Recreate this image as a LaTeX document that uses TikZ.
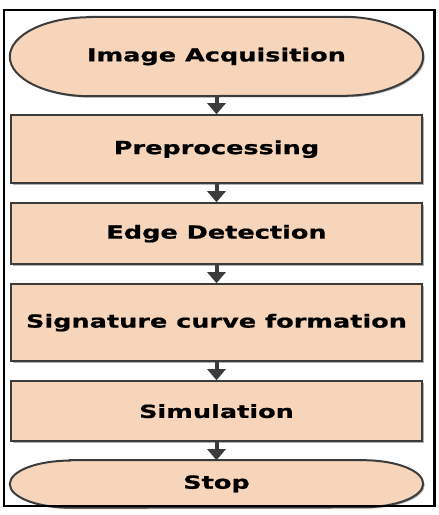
\documentclass[tikz,border=0pt]{standalone}
\usepackage{fontspec}
\newfontfamily\boxfont[FakeStretch=1.42, FakeBold=0.8]{DejaVu Sans}
\usepackage{xcolor}
\usepackage{tikz}
\usetikzlibrary{arrows.meta, positioning, shadows, backgrounds}
\definecolor{peach}{HTML}{F6D5BA}
\definecolor{darkline}{HTML}{3C3C3C}

\begin{document}
\begin{tikzpicture}[
    x=1pt, y=1pt,
    node distance=18pt,
    process/.style={rectangle, draw=darkline, line width=2pt, fill=peach,
                  minimum width=411pt, inner sep=0pt, text centered,
                  font=\boxfont\bfseries\fontsize{18}{21}\selectfont,
                  drop shadow={shadow xshift=1.5pt, shadow yshift=-1.5pt, fill=gray!60, opacity=1}},
    term/.style={rectangle, minimum width=413pt, inner sep=0pt, text centered,
                  font=\boxfont\bfseries\fontsize{18}{21}\selectfont},
    termline/.style={draw=darkline, line width=2pt, fill=peach,
                  drop shadow={shadow xshift=1.5pt, shadow yshift=-1.5pt, fill=gray!60, opacity=1}},
    arrow/.style={-{Triangle[length=11pt, width=18pt]}, line width=4pt, draw=darkline},
]
\useasboundingbox (0,0) rectangle (439,-515);
\draw[line width=2.8pt] (4,-10) rectangle (434.5,-506);

% Nodes
\node[term, minimum height=79pt] (start) at (216.5,-56.5) {Image Acquisition};
\node[process, minimum height=68pt, below=of start] (prep) {Preprocessing};
\node[process, minimum height=61pt, below=of prep] (edge) {Edge Detection};
\node[process, minimum height=77pt, below=of edge] (sig) {Signature curve formation};
\node[process, minimum height=60pt, below=of sig] (sim) {Simulation};
\node[term, minimum height=47pt, below=of sim] (stop) {Stop};

% Terminator outlines
\begin{scope}[on background layer]
\draw[termline] ([xshift=80pt]start.north west) -- ([xshift=-80pt]start.north east)
    arc[start angle=90, end angle=-90, x radius=80pt, y radius=39.5pt]
    -- ([xshift=80pt]start.south west)
    arc[start angle=270, end angle=90, x radius=80pt, y radius=39.5pt] -- cycle;
\draw[termline] ([xshift=60pt]stop.north west) -- ([xshift=-60pt]stop.north east)
    arc[start angle=90, end angle=-90, x radius=60pt, y radius=23.5pt]
    -- ([xshift=60pt]stop.south west)
    arc[start angle=270, end angle=90, x radius=60pt, y radius=23.5pt] -- cycle;
\end{scope}

% Arrows
\draw[arrow] (start) -- (prep);
\draw[arrow] (prep) -- (edge);
\draw[arrow] (edge) -- (sig);
\draw[arrow] (sig) -- (sim);
\draw[arrow] (sim) -- (stop);

\end{tikzpicture}
\end{document}
